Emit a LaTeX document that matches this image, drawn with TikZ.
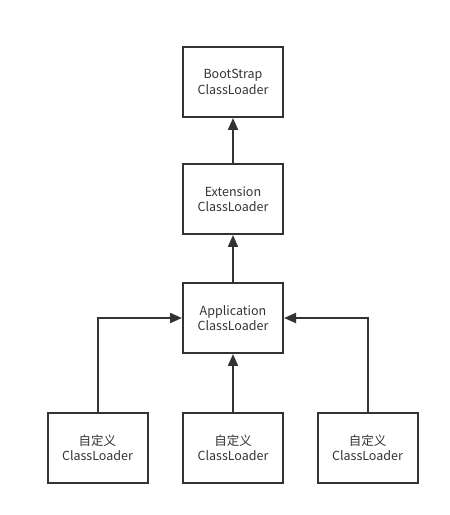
\documentclass[tikz,border=0pt]{standalone}
\usepackage{fontspec}
\setmainfont{Noto Sans CJK SC}
\usetikzlibrary{arrows.meta}
\definecolor{ink}{HTML}{333333}

\begin{document}
\begin{tikzpicture}
    [x=1pt,y=1pt,->,>={Triangle[length=12pt,width=10pt]},line width=2pt,draw=ink,
     every node/.style={rectangle,draw=ink,line width=2pt,minimum width=100pt,minimum height=70pt,
       align=center,text=ink,font=\fontsize{12.5}{15.3}\selectfont}]
    \useasboundingbox (0,0) rectangle (450,515);
    \node (nboot) at (233,433) {BootStrap\\ClassLoader};
    \node (next)  at (233,316) {Extension\\ClassLoader};
    \node (napp)  at (233,197) {Application\\ClassLoader};
    \node (nc1)   at (97.5,67) {自定义\\ClassLoader};
    \node (nc2)   at (233,67)  {自定义\\ClassLoader};
    \node (nc3)   at (367.5,67) {自定义\\ClassLoader};

    \draw (next) -- (nboot);
    \draw (napp) -- (next);
    \draw (nc2) -- (napp);
    \draw (nc1) |- (napp);
    \draw (nc3) |- (napp);

  \end{tikzpicture}
\end{document}
